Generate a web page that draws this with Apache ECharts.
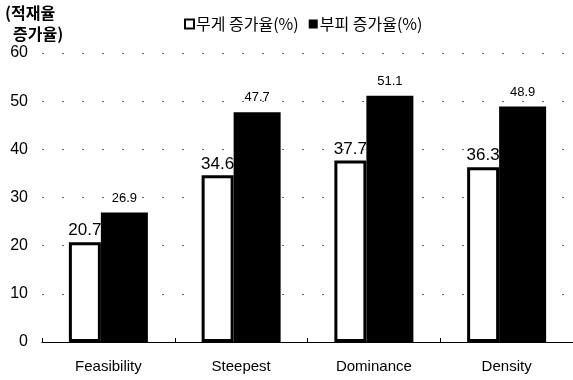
<!DOCTYPE html>
<html>
<head>
<meta charset="utf-8">
<script src="https://cdn.jsdelivr.net/npm/echarts@6/dist/echarts.min.js"></script>
<style>
  html, body { margin: 0; padding: 0; background: #fff; }
  #chart { width: 573px; height: 380px; }
</style>
</head>
<body>
<div id="chart"></div>
<script>
// Load-increase rates per search method
const categories = ['Feasibility', 'Steepest', 'Dominance', 'Density'];
const weightIncrease = [20.7, 34.6, 37.7, 36.3];   // 무게 증가율(%)
const volumeIncrease = [26.9, 47.7, 51.1, 48.9];   // 부피 증가율(%)
const yTicks = { min: 0, max: 60, interval: 10 };
const seriesNames = ['무게 증가율(%)', '부피 증가율(%)'];
const yAxisTitle = ['(적재율', '증가율)'];

const FONT = '"Liberation Sans", Arial, "Noto Sans CJK KR", sans-serif';
const KFONT = '"Noto Sans CJK KR", "Liberation Sans", sans-serif';

const chart = echarts.init(document.getElementById('chart'), null, { renderer: 'canvas' });

chart.setOption({
  animation: false,
  backgroundColor: '#fff',
  grid: { left: 42, top: 53, width: 536, height: 289, containLabel: false },
  legend: {
    top: 11,
    left: 179,
    icon: 'rect',
    itemWidth: 9,
    itemHeight: 9,
    itemGap: 10,
    selectedMode: false,
    textStyle: { fontFamily: KFONT, fontSize: 16, color: '#000', padding: [0, 0, 0, -3], letterSpacing: 0.8 },
    data: seriesNames
  },
  graphic: [
    { type: 'text', left: 5, top: 5, style: { text: yAxisTitle[0], font: 'bold 16px ' + KFONT, fill: '#000', letterSpacing: 1 } },
    { type: 'text', left: 13, top: 26, style: { text: yAxisTitle[1], font: 'bold 16px ' + KFONT, fill: '#000', letterSpacing: 1 } }
  ],
  xAxis: {
    type: 'category',
    data: categories,
    axisLine: { lineStyle: { color: '#000', width: 1.2 } },
    axisTick: { show: true, inside: true, length: 4, lineStyle: { color: '#000' } },
    axisLabel: { fontFamily: FONT, fontSize: 15, color: '#000', margin: 17 },
    splitLine: { show: false }
  },
  yAxis: {
    type: 'value',
    min: yTicks.min,
    max: yTicks.max,
    interval: yTicks.interval,
    axisLine: { show: false },
    axisTick: { show: false },
    axisLabel: { fontFamily: FONT, fontSize: 16, color: '#000', margin: 14, letterSpacing: -1.5 },
    splitLine: { show: true, lineStyle: { color: '#666', width: 1, type: [2, 18] } }
  },
  series: [
    {
      name: seriesNames[0],
      type: 'bar',
      data: weightIncrease,
      barWidth: 32,
      barGap: '0%',
      itemStyle: { color: '#fff', borderColor: '#000', borderWidth: 3 },
      label: {
        show: true, position: 'top', distance: 3,
        fontFamily: FONT, fontSize: 17, color: '#000'
      },
      z: 3
    },
    {
      name: seriesNames[1],
      type: 'bar',
      data: volumeIncrease,
      barWidth: 47,
      itemStyle: { color: '#000' },
      label: {
        show: true, position: 'top', distance: 8,
        fontFamily: FONT, fontSize: 13, color: '#000'
      },
      z: 2
    }
  ]
});
</script>
</body>
</html>
